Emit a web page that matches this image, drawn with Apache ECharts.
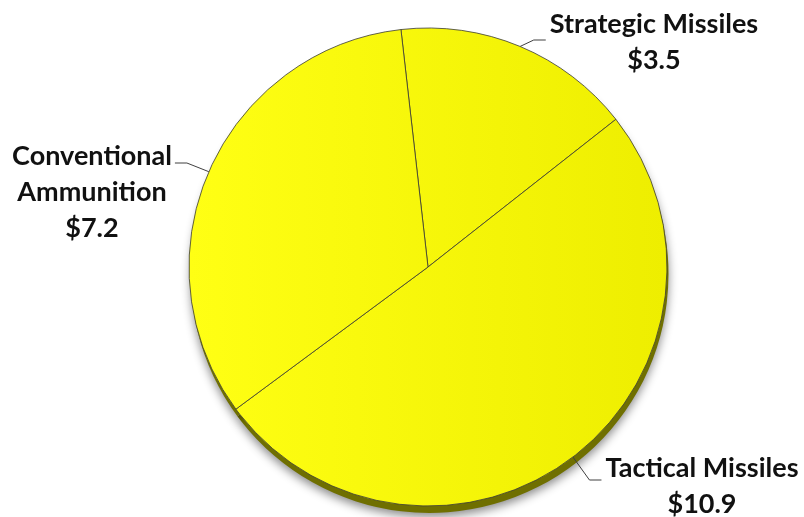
<!DOCTYPE html>
<html>
<head>
<meta charset="utf-8">
<script src="https://cdn.jsdelivr.net/npm/echarts@6/dist/echarts.min.js"></script>
<style>
  html, body { margin: 0; padding: 0; background: #ffffff; }
  #chart { width: 804px; height: 517px; }
</style>
</head>
<body>
<div id="chart"></div>
<script>
// Procurement funding by category ($ billions)
const categories = ['Strategic Missiles', 'Tactical Missiles', 'Conventional Ammunition'];
const labelNames = ['Strategic Missiles', 'Tactical Missiles', 'Conventional\nAmmunition'];
const values = [3.5, 10.9, 7.2];

const data = categories.map((name, i) => ({ name: name, value: values[i] }));

// Where each callout sits: text centre x, first-line baseline, leader height
const labelPlacement = [
  { cx: 654, baseline: 33, lineY: 40, side: 'right' },
  { cx: 702, baseline: 477, lineY: 480, side: 'right' },
  { cx: 92, baseline: 165, lineY: 163, side: 'left' }
];

const FONT_SIZE = 27;
const LINE_HEIGHT = 36;
const PIE_CENTER = [428, 267];
const PIE_RADIUS = 239;

const chart = echarts.init(document.getElementById('chart'), null, { renderer: 'canvas' });

chart.setOption({
  animation: false,
  backgroundColor: '#ffffff',
  series: [
    {
      // olive rim and drop shadow under the pie face
      type: 'pie',
      silent: true,
      z: 1,
      center: [PIE_CENTER[0] + 1.5, PIE_CENTER[1] + 7],
      radius: PIE_RADIUS,
      startAngle: 96.5,
      clockwise: true,
      label: { show: false },
      labelLine: { show: false },
      itemStyle: {
        color: '#6f6f00',
        borderWidth: 0,
        shadowBlur: 10,
        shadowOffsetY: 4,
        shadowColor: 'rgba(0,0,0,0.45)'
      },
      emphasis: { disabled: true },
      data: data
    },
    {
      type: 'pie',
      z: 2,
      center: PIE_CENTER,
      radius: PIE_RADIUS,
      startAngle: 96.5,
      clockwise: true,
      itemStyle: {
        color: {
          type: 'linear', global: true,
          x: PIE_CENTER[0] - PIE_RADIUS, y: 0,
          x2: PIE_CENTER[0] + PIE_RADIUS, y2: 0,
          colorStops: [
            { offset: 0, color: '#ffff14' },
            { offset: 1, color: '#eeee00' }
          ]
        },
        borderColor: '#3a3a3a',
        borderWidth: 0.8
      },
      emphasis: { disabled: true },
      label: {
        show: true,
        position: 'outside',
        fontFamily: 'Lato',
        fontWeight: 'bold',
        fontSize: FONT_SIZE,
        lineHeight: LINE_HEIGHT,
        color: '#111111',
        align: 'center',
        formatter: function (p) {
          return labelNames[p.dataIndex] + '\n$' + values[p.dataIndex].toFixed(1);
        }
      },
      labelLine: {
        show: true,
        length: 12,
        length2: 12,
        lineStyle: { color: '#404040', width: 1 }
      },
      labelLayout: function (p) {
        const pl = labelPlacement[p.dataIndex];
        const w = p.labelRect.width;
        const start = p.labelLinePoints ? p.labelLinePoints[0] : [pl.cx, pl.lineY];
        let end, elbow;
        if (pl.side === 'right') {
          end = [pl.cx - w / 2 - 4, pl.lineY];
          elbow = [end[0] - 12, pl.lineY];
        } else {
          end = [pl.cx + w / 2 + 3, pl.lineY];
          elbow = [end[0] + 12, pl.lineY];
        }
        return {
          x: pl.cx,
          y: pl.baseline - 27,
          align: 'center',
          verticalAlign: 'top',
          labelLinePoints: [start, elbow, end]
        };
      },
      data: data
    }
  ]
});
</script>
</body>
</html>
